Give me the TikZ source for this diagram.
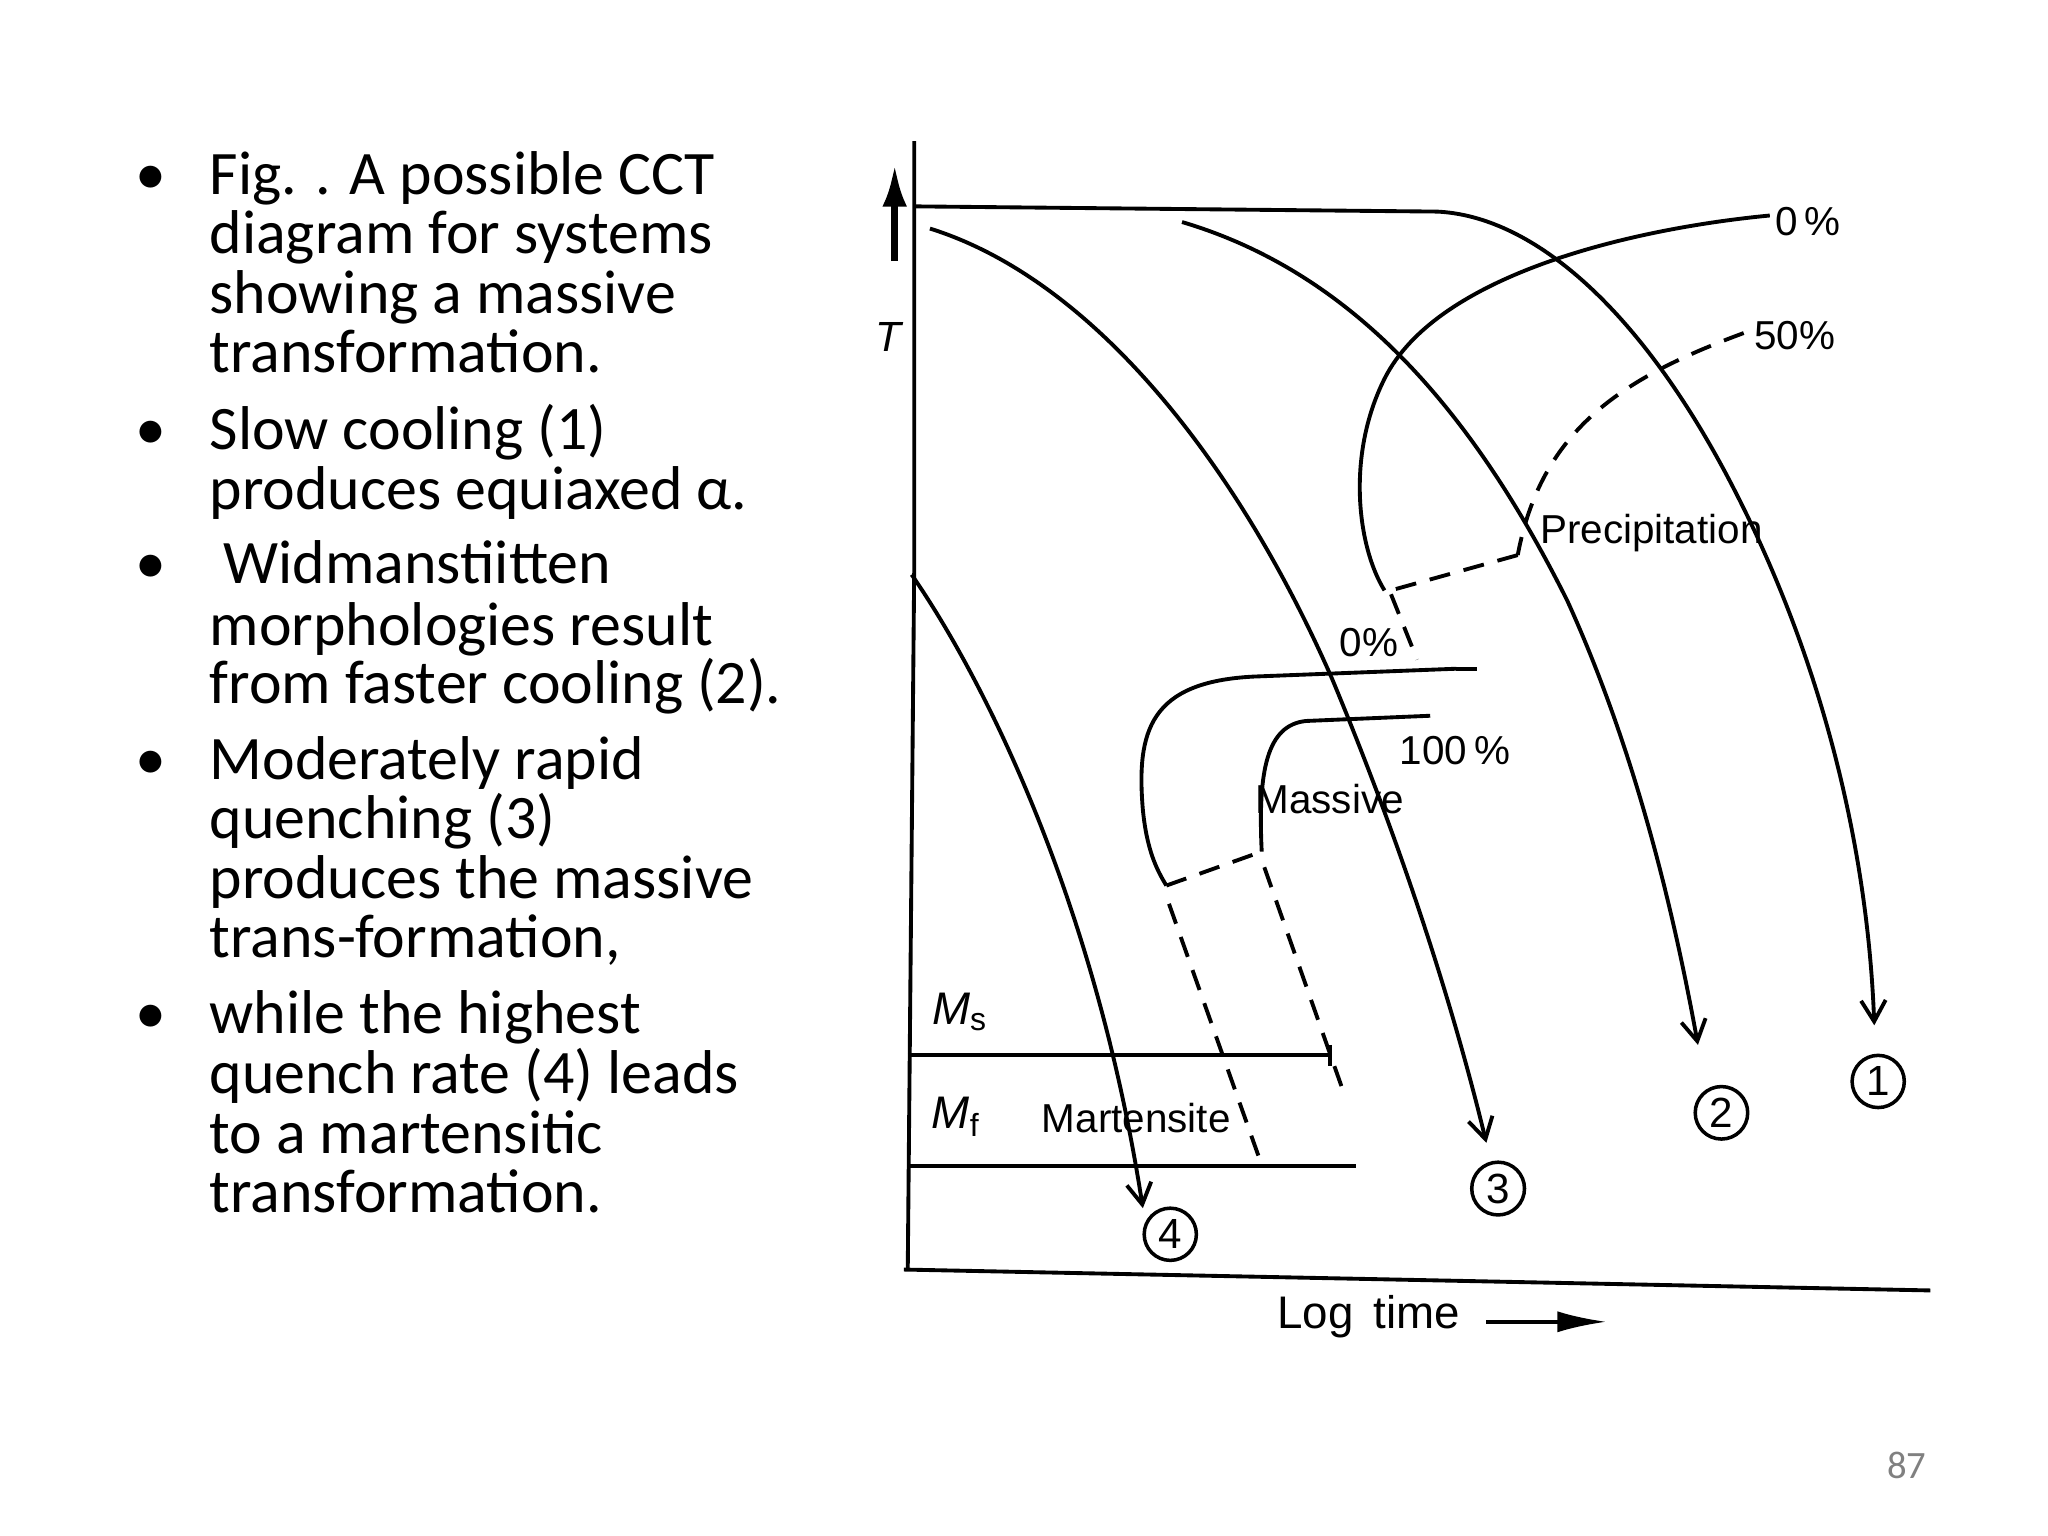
\documentclass[tikz,border=0pt]{standalone}
\usepackage{fontspec}
\setmainfont{Carlito}
\newfontfamily\lab{Liberation Sans}
\usetikzlibrary{arrows.meta}
\begin{document}
\begin{tikzpicture}[x=0.013061cm,y=-0.013061cm,
  crv/.style={line width=1.1pt},
  dsh/.style={line width=1.1pt,dash pattern=on 6pt off 4pt},
  lbl/.style={font=\lab\fontsize{11.5}{14}\selectfont,inner sep=1pt},
  num/.style={circle,draw,line width=1pt,inner sep=1.5pt,font=\lab\fontsize{12}{14}\selectfont},
  tip/.style={-{Straight Barb[length=6pt,width=7pt]}},
  tl/.style={anchor=base west,inner sep=0pt,font=\fontsize{17.6}{17}\selectfont}]
\useasboundingbox (0,0) rectangle (1568,1176);
% text
\foreach \y/\t [count=\i] in {
 149/{Fig. . A possible CCT},194/{diagram for systems},240/{showing a massive},285/{transformation.},
 344/{Slow cooling (1)},390/{produces equiaxed α.},447/{\ Widmanstiitten},
 494/{morphologies result},539/{from faster cooling (2).},
 597/{Moderately rapid},642/{quenching (3)},688/{produces the massive},733/{trans-formation,},
 791/{while the highest},837/{quench rate (4) leads},883/{to a martensitic},928/{transformation.}}
 {\node[tl] (t\i) at (160,\y) {\t};}
\foreach \y [count=\i] in {149,344,447,597,791}{\node[tl] (b\i) at (103,\y) {•};}
\node[text=gray,font=\fontsize{11}{13}\selectfont] (pg) at (1460,1122) {87};
% axes
\draw[crv] (700,108) -- (700,430) -- (695,972);
\draw[crv] (692,972) -- (1478,988);
\draw[line width=2pt,-{Latex[length=12pt,width=7pt]}] (685,200) -- (685,126);
\node[lbl,font=\lab\itshape\fontsize{12}{14}\selectfont] (T) at (680,258) {T};
\node[lbl,font=\lab\fontsize{13}{15}\selectfont] (lt) at (1048,1008) {Log\, time};
\draw[line width=1pt,-{Latex[length=14pt,width=6pt]}] (1138,1012) -- (1230,1012);
% cooling curves
\draw[crv,tip] (700,158) -- (1100,162) .. controls (1170,165) and (1250,230) .. (1320,360) .. controls (1395,500) and (1430,650) .. (1435,785);
\draw[crv,tip] (905,170) .. controls (1040,210) and (1130,320) .. (1200,460) .. controls (1250,570) and (1280,690) .. (1300,800);
\draw[crv,tip] (712,175) .. controls (840,215) and (950,360) .. (1020,520) .. controls (1070,640) and (1110,760) .. (1138,875);
\draw[crv,tip] (698,440) .. controls (760,530) and (840,700) .. (875,925);
\node[num] (c1) at (1438,828) {1};
\node[num] (c2) at (1318,852) {2};
\node[num] (c3) at (1147,910) {3};
\node[num] (c4) at (896,945) {4};
% precipitation
\draw[crv] (1355,165) .. controls (1250,175) and (1100,210) .. (1060,290) .. controls (1030,350) and (1040,420) .. (1060,452);
\draw[dsh] (1335,255) .. controls (1240,290) and (1180,330) .. (1162,425);
\draw[dsh] (1162,425) -- (1065,452);
\node[lbl,anchor=west] (p0) at (1356,170) {0\,\%};
\node[lbl,anchor=west] (p50) at (1340,257) {50\%};
\node[lbl,anchor=west] (prec) at (1176,408) {Precipitation};
% massive
\draw[crv] (1115,512) -- (960,518) .. controls (880,522) and (870,560) .. (875,620) .. controls (878,650) and (885,665) .. (893,678);
\draw[dsh] (1115,512) -- (1135,512);
\draw[crv] (1095,548) -- (1000,552) .. controls (970,555) and (963,590) .. (966,652);
\draw[dsh] (893,678) -- (966,652);
\draw[dsh] (895,692) -- (966,892);
\draw[dsh] (968,664) -- (1030,840);
\draw[dsh] (1065,455) -- (1085,505);
\node[lbl] (m0) at (1048,492) {0\%};
\node[lbl] (m100) at (1114,575) {100\,\%};
\node[lbl] (mass) at (1018,612) {Massive};
% martensite
\draw[crv] (695,808) -- (1018,808);
\draw[crv] (1018,800) -- (1018,816);
\draw[crv] (695,893) -- (1038,893);
\node[lbl,font=\lab\itshape\fontsize{13}{15}\selectfont] (ms) at (735,775) {M\textsubscript{\upshape s}};
\node[lbl,font=\lab\itshape\fontsize{13}{15}\selectfont] (mf) at (732,855) {M\textsubscript{\upshape f}};
\node[lbl] (mart) at (870,856) {Martensite};
\end{tikzpicture}
\end{document}
